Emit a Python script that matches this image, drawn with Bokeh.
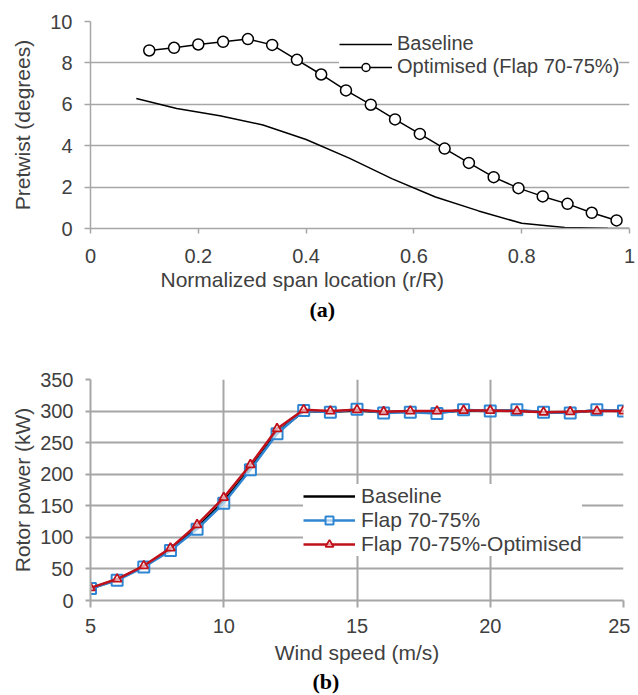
from bokeh.plotting import figure
from bokeh.models import Range1d, FixedTicker, Legend, LegendItem, Title
from bokeh.layouts import column
from bokeh.embed import file_html
from bokeh.resources import INLINE

# ---------------- data (a) ----------------
base_r = [0.085, 0.16, 0.24, 0.32, 0.40, 0.48, 0.56, 0.64, 0.72, 0.80, 0.88, 0.96, 1.0]
base_twist = [6.28, 5.8, 5.45, 5.0, 4.3, 3.4, 2.4, 1.52, 0.85, 0.25, 0.05, 0.01, 0.0]

opt_r = [0.109, 0.155, 0.2, 0.246, 0.292, 0.337, 0.383, 0.428, 0.474, 0.52,
         0.565, 0.611, 0.657, 0.702, 0.748, 0.794, 0.839, 0.885, 0.93, 0.976]
opt_twist = [8.6, 8.73, 8.89, 9.02, 9.15, 8.87, 8.15, 7.44, 6.67, 5.98,
             5.27, 4.57, 3.86, 3.17, 2.48, 1.95, 1.55, 1.19, 0.76, 0.39]

a_xticks = [0, 0.2, 0.4, 0.6, 0.8, 1.0]
a_xlabels = ["0", "0.2", "0.4", "0.6", "0.8", "1"]
a_yticks = [0, 2, 4, 6, 8, 10]

# ---------------- data (b) ----------------
wind = [5, 6, 7, 8, 9, 10, 11, 12, 13, 14, 15, 16, 17, 18, 19, 20, 21, 22, 23, 24, 25]
p_base = [19, 33, 54, 81, 115, 157, 209, 266, 300, 299, 301, 298, 300, 298, 301, 300, 301, 298, 298, 301, 300]
p_flap = [19, 32, 53, 79, 113, 154, 207, 264, 301, 298, 303, 297, 298, 296, 302, 300, 302, 298, 297, 302, 300]
p_opt = [20, 34, 55, 83, 120, 163, 215, 272, 302, 300, 302, 299, 300, 300, 301, 301, 300, 298, 299, 300, 300]

b_xticks = [5, 10, 15, 20, 25]
b_yticks = [0, 50, 100, 150, 200, 250, 300, 350]

GRID = "#a6a6a6"
TXT = "#404040"
FONT = "Liberation Sans"
BLUE = "#2f86d2"
RED = "#c0101a"


def style_axes(p, tick_out_x, tick_out_y, x_lab_standoff, y_lab_standoff, x_axl, y_axl):
    for ax in (p.xaxis[0], p.yaxis[0]):
        ax.axis_line_color = GRID
        ax.axis_line_width = 1.5
        ax.major_tick_line_color = GRID
        ax.major_tick_line_width = 1.5
        ax.major_tick_in = 0
        ax.minor_tick_line_color = None
        ax.major_label_text_font = FONT
        ax.major_label_text_font_size = "20px"
        ax.major_label_text_color = TXT
        ax.axis_label_text_font = FONT
        ax.axis_label_text_font_size = "21px"
        ax.axis_label_text_font_style = "normal"
        ax.axis_label_text_color = TXT
    p.xaxis[0].major_tick_out = tick_out_x
    p.yaxis[0].major_tick_out = tick_out_y
    p.xaxis[0].major_label_standoff = x_lab_standoff
    p.yaxis[0].major_label_standoff = y_lab_standoff
    p.xaxis[0].axis_label_standoff = x_axl
    p.yaxis[0].axis_label_standoff = y_axl


# ---------------- figure (a) ----------------
pa = figure(width=636, height=338, output_backend="svg", toolbar_location=None,
            x_range=Range1d(0, 1), y_range=Range1d(0, 10),
            min_border_left=90, min_border_right=7, min_border_top=21, min_border_bottom=110)
pa.outline_line_color = None
pa.xgrid.visible = False
pa.ygrid.grid_line_color = GRID
pa.ygrid.grid_line_width = 1.5
pa.xaxis.ticker = FixedTicker(ticks=a_xticks)
pa.yaxis.ticker = FixedTicker(ticks=a_yticks)
pa.xaxis.major_label_overrides = dict(zip(a_xticks, a_xlabels))
pa.yaxis.axis_label = "Pretwist (degrees)"
style_axes(pa, 5, 6, 15, 12, 0, 13)

ra1 = pa.line(base_r, base_twist, line_color="black", line_width=1.5)
ra2 = pa.line(opt_r, opt_twist, line_color="black", line_width=1.5)
ra3 = pa.scatter(opt_r, opt_twist, marker="circle", size=11, fill_color="white",
                 line_color="black", line_width=1.5)

leg_a = Legend(items=[LegendItem(label="Baseline", renderers=[ra1]),
                      LegendItem(label="Optimised (Flap 70-75%)", renderers=[ra2, ra3])],
               location=(249, 150), glyph_width=53, glyph_height=20, label_standoff=5,
               label_height=20, spacing=0, padding=6, margin=0,
               border_line_color=None, background_fill_color="white", background_fill_alpha=1,
               label_text_font=FONT, label_text_font_size="20px", label_text_color=TXT)
pa.add_layout(leg_a)
pa.add_layout(Title(text="Normalized span location (r/R)", align="left", offset=70, standoff=0,
                    text_font=FONT, text_font_size="21px", text_font_style="normal",
                    text_color=TXT), "below")
pa.add_layout(Title(text="(a)", align="left", offset=219, standoff=8,
                    text_font="Liberation Serif", text_font_size="22px",
                    text_font_style="bold", text_color="black"), "below")

# ---------------- figure (b) ----------------
pb = figure(width=630, height=357, output_backend="svg", toolbar_location=None,
            x_range=Range1d(5, 25), y_range=Range1d(0, 350),
            min_border_left=90, min_border_right=7, min_border_top=41, min_border_bottom=95)
pb.outline_line_color = None
pb.xgrid.grid_line_color = GRID
pb.xgrid.grid_line_width = 2
pb.ygrid.grid_line_color = GRID
pb.ygrid.grid_line_width = 2
pb.xaxis.ticker = FixedTicker(ticks=b_xticks)
pb.yaxis.ticker = FixedTicker(ticks=b_yticks)
pb.xaxis.axis_label = "Wind speed (m/s)"
pb.yaxis.axis_label = "Rotor power (kW)"
style_axes(pb, 7, 5, 11, 12, 5, 3)
pb.xaxis.axis_line_width = 2
pb.yaxis.axis_line_width = 2
pb.xaxis.major_tick_line_width = 2
pb.yaxis.major_tick_line_width = 2

rb1 = pb.line(wind, p_base, line_color="black", line_width=2.5)
rb2 = pb.line(wind, p_flap, line_color=BLUE, line_width=2.5)
rb3 = pb.scatter(wind, p_flap, marker="square", size=11, fill_color="white", fill_alpha=0.6,
                 line_color=BLUE, line_width=2)
rb4 = pb.line(wind, p_opt, line_color=RED, line_width=2.5)
rb5 = pb.scatter(wind, p_opt, marker="triangle", size=9, fill_color="white", fill_alpha=0.6,
                 line_color=RED, line_width=1.8)

leg_b = Legend(items=[LegendItem(label="Baseline", renderers=[rb1]),
                      LegendItem(label="Flap 70-75%", renderers=[rb2, rb3]),
                      LegendItem(label="Flap 70-75%-Optimised", renderers=[rb4, rb5])],
               location=(213, 44), glyph_width=52, glyph_height=20, label_standoff=6,
               label_height=20, spacing=-2, padding=10, margin=0,
               border_line_color=None, background_fill_color="white", background_fill_alpha=1,
               label_text_font=FONT, label_text_font_size="21px", label_text_color=TXT)
pb.add_layout(leg_b)
pb.add_layout(Title(text="(b)", align="left", offset=222, standoff=0,
                    text_font="Liberation Serif", text_font_size="22px",
                    text_font_style="bold", text_color="black"), "below")

layout = column(pa, pb)
open("out.html", "w").write(file_html(layout, INLINE))
